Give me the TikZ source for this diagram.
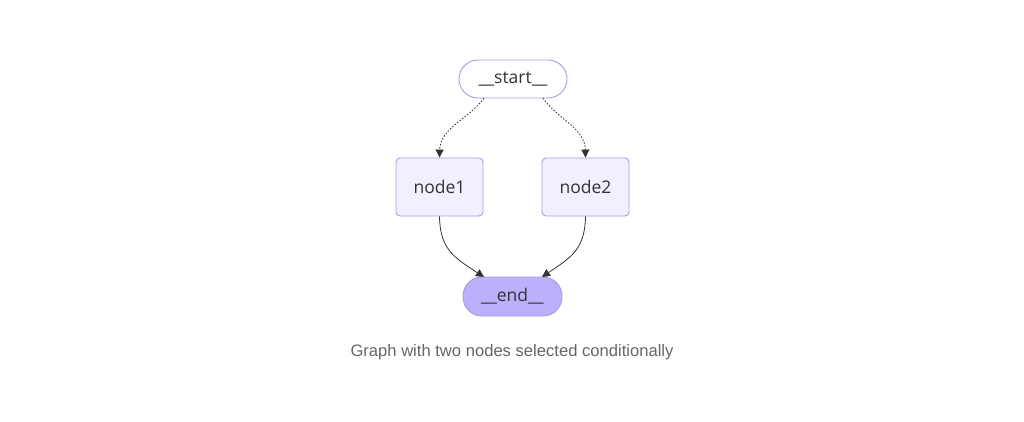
\documentclass[tikz,border=0pt]{standalone}
\usepackage{fontspec}
\setmainfont{Open Sans}
\newfontfamily\capfont{Liberation Sans}
\usetikzlibrary{arrows.meta}
\definecolor{nodefill}{HTML}{F2F0FF}
\definecolor{nodeborder}{HTML}{A99CE0}
\definecolor{endfill}{HTML}{BBB0FC}
\definecolor{edgecol}{HTML}{333333}
\definecolor{capcol}{HTML}{666666}
\tikzset{
  terminal/.style={draw=nodeborder, line width=0.9pt, rounded corners=19pt, inner sep=0pt, font=\fontsize{17.5}{20}\selectfont, text=edgecol},
  boxnode/.style={draw=nodeborder, fill=nodefill, line width=0.9pt, rounded corners=4pt, minimum width=87pt, minimum height=58pt, inner sep=0pt, font=\fontsize{17.5}{20}\selectfont, text=edgecol},
  edge/.style={draw=edgecol, line width=0.8pt, -{Triangle[length=8pt,width=8pt]}},
  condedge/.style={edge, dash pattern=on 1.6pt off 1.6pt}
}
\begin{document}
\begin{tikzpicture}[x=1pt,y=-1pt]
\useasboundingbox[fill=white] (0,0) rectangle (1024,422);
\node[terminal, fill=white, minimum width=108pt, minimum height=38pt] (start) at (513,79) {\_\_start\_\_};
\node[boxnode] (n1) at (439.5,187) {node1};
\node[boxnode] (n2) at (585.5,187) {node2};
\node[terminal, fill=endfill, minimum width=99pt, minimum height=39pt] (end) at (512.5,296.5) {\_\_end\_\_};
\node[font=\capfont\fontsize{16.6}{19}\selectfont, text=capcol] (cap) at (512,352) {Graph with two nodes selected conditionally};
\coordinate (s1) at (484,98);
\coordinate (s2) at (543,98);
\draw[condedge] (s1) .. controls (470,118) and (440,128) .. (n1.north);
\draw[condedge] (s2) .. controls (556,118) and (585,128) .. (n2.north);
\coordinate (e1) at (484,277);
\coordinate (e2) at (542,277);
\draw[edge] (n1.south) .. controls (440,250) and (455,258) .. (e1);
\draw[edge] (n2.south) .. controls (585,250) and (570,258) .. (e2);
\end{tikzpicture}
\end{document}
